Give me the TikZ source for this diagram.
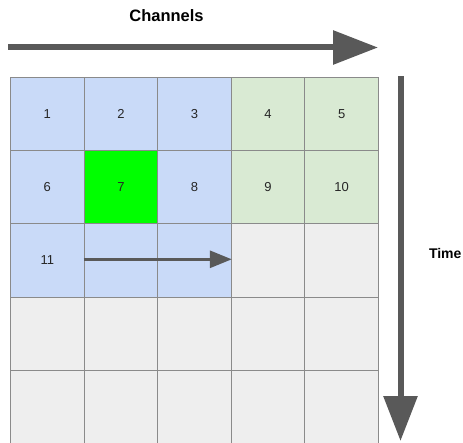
\documentclass[tikz,border=0pt]{standalone}
\usepackage{fontspec}
\setmainfont{Liberation Sans}
\usetikzlibrary{arrows.meta}
\definecolor{cellblue}{HTML}{C9DAF8}
\definecolor{cellgreen}{HTML}{D9EAD3}
\definecolor{cellgray}{HTML}{EEEEEE}
\definecolor{cellhot}{HTML}{00FF00}
\definecolor{gridline}{HTML}{8A8A8A}
\definecolor{arrowgray}{HTML}{595959}
\begin{document}
\begin{tikzpicture}[x=1pt,y=-1pt,
  cell/.style={draw=gridline, line width=1pt, minimum width=73.6pt, minimum height=73.3pt,
    inner sep=0pt, anchor=north west, font=\fontsize{13}{15}\selectfont, text=black!85},
  bigarrow/.style={draw=arrowgray, line width=6pt, -{Triangle[length=45pt,width=33pt]}},
  smallarrow/.style={draw=arrowgray, line width=3pt, -{Triangle[length=22pt,width=17pt]}},
  axislabel/.style={font=\bfseries\fontsize{14}{16}\selectfont, text=black}]
\useasboundingbox (0,0) rectangle (463,443);
% grid of cells, row by row
\foreach \r/\c/\fillc/\lab in {
  1/1/cellblue/1, 1/2/cellblue/2, 1/3/cellblue/3, 1/4/cellgreen/4, 1/5/cellgreen/5,
  2/1/cellblue/6, 2/2/cellhot/7, 2/3/cellblue/8, 2/4/cellgreen/9, 2/5/cellgreen/10,
  3/1/cellblue/11, 3/2/cellblue/{}, 3/3/cellblue/{}, 3/4/cellgray/{}, 3/5/cellgray/{},
  4/1/cellgray/{}, 4/2/cellgray/{}, 4/3/cellgray/{}, 4/4/cellgray/{}, 4/5/cellgray/{},
  5/1/cellgray/{}, 5/2/cellgray/{}, 5/3/cellgray/{}, 5/4/cellgray/{}, 5/5/cellgray/{}}
  \node[cell, fill=\fillc] (c\r\c) at ({10+(\c-1)*73.6},{76.7+(\r-1)*73.3}) {\lab};
% axis labels
\node[axislabel, font=\bfseries\fontsize{16.5}{18}\selectfont] (chlab) at (166.5,15.5) {Channels};
\node[axislabel, anchor=west] (timelab) at (425.5,253) {Time};
% channel axis arrow
\coordinate (chA) at (8,47.5);
\coordinate (chB) at (378,47.5);
\draw[bigarrow] (chA) -- (chB);
% time axis arrow
\coordinate (tA) at (400.5,76.5);
\coordinate (tB) at (400.5,441);
\draw[bigarrow] (tA) -- (tB);
% scan arrow inside row 3
\coordinate (sA) at (c32.west |- 0,259.3);
\draw[smallarrow] (sA) -- (c33.east |- sA);
\end{tikzpicture}
\end{document}
